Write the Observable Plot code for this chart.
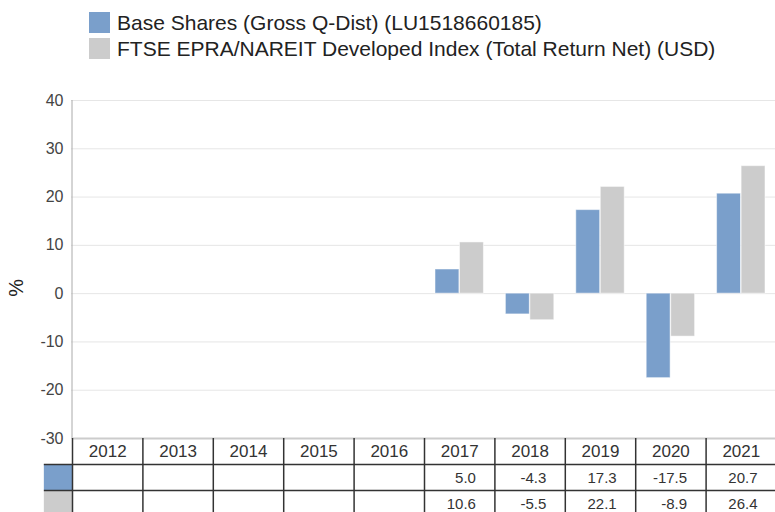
<!DOCTYPE html>
<html>
<head>
<meta charset="utf-8">
<script src="https://cdn.jsdelivr.net/npm/d3@7"></script>
<script src="https://cdn.jsdelivr.net/npm/@observablehq/plot@0.6"></script>
<style>
  body { margin: 0; background: #fff; font-family: "Liberation Sans", Arial, sans-serif; }
  #legend { position: relative; height: 65px; }
  .item { position: absolute; left: 89px; display: flex; align-items: center; font-size: 21px; line-height: 21px; color: #222; white-space: nowrap; }
  .sw { width: 21px; height: 21px; margin-right: 7px; flex: none; }
  svg { display: block; overflow: visible; }
</style>
</head>
<body>
<div id="legend"></div>
<div id="chart"></div>
<div id="table"></div>
<script>
// ---- data ----
const years = [2012, 2013, 2014, 2015, 2016, 2017, 2018, 2019, 2020, 2021];
const seriesNames = [
  "Base Shares (Gross Q-Dist) (LU1518660185)",
  "FTSE EPRA/NAREIT Developed Index (Total Return Net) (USD)"
];
const seriesColors = ["#7a9fcb", "#cccccc"];
const baseValues  = [null, null, null, null, null, 5.0, -4.3, 17.3, -17.5, 20.7];
const benchValues = [null, null, null, null, null, 10.6, -5.5, 22.1, -8.9, 26.4];
const yTicks = [-30, -20, -10, 0, 10, 20, 30, 40];
const yLabel = "%";

// ---- derived tables ----
const baseData = years.map((year, i) => ({year, value: baseValues[i]})).filter(d => d.value != null);
const benchData = years.map((year, i) => ({year, value: benchValues[i]})).filter(d => d.value != null);
const xMin = d3.min(years) - 0.5;
const xMax = d3.max(years) + 0.5;
const colRange = [72, 776];
const font = "'Liberation Sans', Arial, sans-serif";

// ---- legend ----
const legend = document.getElementById("legend");
seriesNames.forEach((name, i) => {
  const item = document.createElement("div");
  item.className = "item";
  item.style.top = (12 + i * 26) + "px";
  const sw = document.createElement("div");
  sw.className = "sw";
  sw.style.background = seriesColors[i];
  const t = document.createElement("span");
  t.textContent = name;
  item.appendChild(sw);
  item.appendChild(t);
  legend.appendChild(item);
});

// ---- chart ----
const chart = Plot.plot({
  width: 775,
  height: 373,
  marginTop: 35,
  marginBottom: 0,
  marginLeft: 71,
  marginRight: 0,
  style: {fontFamily: font, fontSize: "16px", color: "#444", background: "transparent"},
  x: {type: "linear", domain: [xMin, xMax], range: colRange, axis: null},
  y: {domain: [d3.min(yTicks), d3.max(yTicks)], axis: null},
  marks: [
    Plot.ruleY(yTicks, {stroke: "#e6e6e6", strokeWidth: 1}),
    Plot.ruleX([xMin], {stroke: "#aaaaaa", strokeWidth: 1, dx: -0.5}),
    Plot.axisY(yTicks, {tickSize: 0, tickPadding: 8, fontSize: 16, fill: "#444", label: null, tickFormat: d => String(d)}),
    Plot.text([{label: yLabel, y: 0}], {y: "y", text: "label", frameAnchor: "left", dx: -55, dy: 3, rotate: -90, fontSize: 20, fill: "#222"}),
    Plot.rectY(baseData, {x1: d => d.year - 0.5, x2: d => d.year + 0.5, y: "value", fill: seriesColors[0], insetLeft: 11, insetRight: 35.5, stroke: "#fff", strokeOpacity: 0.5, strokeWidth: 1}),
    Plot.rectY(benchData, {x1: d => d.year - 0.5, x2: d => d.year + 0.5, y: "value", fill: seriesColors[1], insetLeft: 35.5, insetRight: 11, stroke: "#fff", strokeOpacity: 0.5, strokeWidth: 1})
  ]
});
document.getElementById("chart").appendChild(chart);

// ---- table ----
const swatchWidth = 0.4; // in column units
const rows = [
  {row: 1, color: seriesColors[0], data: baseData},
  {row: 2, color: seriesColors[1], data: benchData}
];
const boundaries = years.map(y => y - 0.5).concat([xMax]);
const table = Plot.plot({
  width: 775,
  height: 78,
  margin: 0,
  style: {fontFamily: font, color: "#333", background: "transparent"},
  x: {type: "linear", domain: [xMin, xMax], range: colRange, axis: null},
  y: {type: "linear", domain: [0, 3], range: [0, 78], axis: null},
  marks: [
    Plot.rect(rows, {x1: xMin - swatchWidth, x2: xMin, y1: d => d.row, y2: d => d.row + 1, fill: d => d.color}),
    Plot.ruleY([0], {x1: xMin, x2: xMax, stroke: "#cccccc", strokeWidth: 2}),
    Plot.ruleY([1, 2], {x1: xMin - swatchWidth, x2: xMax, stroke: "#333", strokeWidth: 1.5}),
    Plot.ruleX(boundaries, {y1: 0, y2: 3, stroke: "#333", strokeWidth: 1.5}),
    Plot.text(years, {x: d => d, y: 0.5, text: d => String(d), fontSize: 17, fill: "#333"}),
    ...rows.map(r => Plot.text(r.data, {x: d => d.year + 0.5, y: r.row + 0.5, text: d => d.value.toFixed(1), textAnchor: "end", dx: -19, dy: 1, fontSize: 15, fill: "#333"}))
  ]
});
document.getElementById("table").appendChild(table);
</script>
</body>
</html>
